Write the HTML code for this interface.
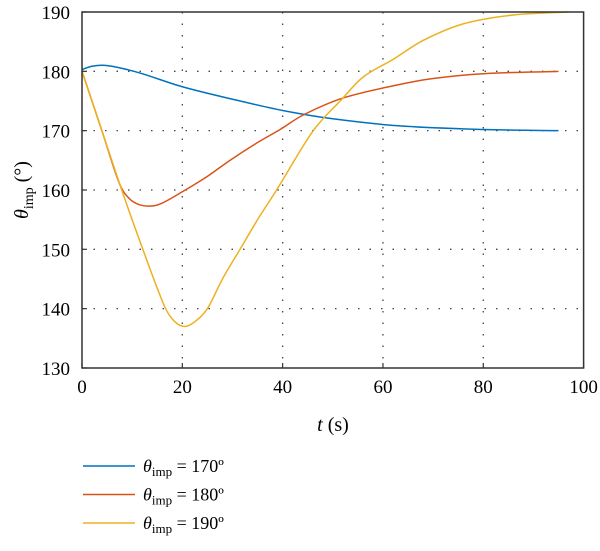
<!DOCTYPE html>
<html><head><meta charset="utf-8"><style>
body{margin:0;background:#fff;}
svg{display:block;font-family:"Liberation Serif",serif;}
</style></head><body>
<svg id="chart" width="600" height="551" viewBox="0 0 600 551">
<g id="grid"></g>
<g id="series"></g>
<rect x="82" y="12" width="501.6" height="356" fill="none" stroke="#333" stroke-width="1.5"/>
<g id="ticks"></g>
<text x="333" y="431" font-size="20" text-anchor="middle"><tspan font-style="italic">t</tspan> (s)</text>
<text transform="translate(28,190) rotate(-90)" font-size="20" text-anchor="middle"><tspan font-style="italic">θ</tspan><tspan font-size="14" dy="5">imp</tspan><tspan dy="-5"> (°)</tspan></text>
<g id="legend"></g>
</svg>
<script>
const xTicks=[0,20,40,60,80,100];
const yTicks=[130,140,150,160,170,180,190];
const seriesLabels=["170º","180º","190º"];
const colors=["#0072BD","#D95319","#EDB120"];
const t170=[0,2,4.6,8,12,20,30,40,50,63.4,80,95];
const v170=[180.3,180.85,181,180.5,179.6,177.4,175.3,173.4,172,170.8,170.2,170];
const t180=[0,4,7.5,9.5,11.5,13.9,16,20,25,29.5,35,39.5,44,52,63.4,70,80,95];
const v180=[180,169.9,161,158.5,157.5,157.3,157.8,159.7,162.3,165,168,170.2,172.6,175.5,177.8,178.8,179.6,180];
const t190=[0,4,8,12,16.5,18.5,20.5,22.5,25,28,31.5,35,38.8,46.1,51.8,56,62,68,76,86,97];
const v190=[180,169.9,159.8,150.3,140.3,137.8,137,137.8,140,145,150,155,160,170,175.3,179,182,185.2,188,189.5,190];
const ts=[t170,t180,t190], vs=[v170,v180,v190];
const X=t=>82+t*5.016, Y=v=>12+(190-v)*5.933;
const NS="http://www.w3.org/2000/svg";
function mk(tag,attrs,parent){const e=document.createElementNS(NS,tag);for(const k in attrs)e.setAttribute(k,attrs[k]);parent.appendChild(e);return e;}
const grid=document.getElementById('grid'),ticks=document.getElementById('ticks'),ser=document.getElementById('series'),leg=document.getElementById('legend');
xTicks.forEach(t=>{
 if(t>0&&t<100){const l=mk('line',{x1:X(t),x2:X(t),y1:12,y2:368,stroke:'#444','stroke-width':1.3,'stroke-dasharray':'1.5 10'},grid);
 
 }
 const tk=mk('line',{x1:X(t),x2:X(t),y1:368,y2:363,stroke:'#333','stroke-width':1.2},ticks);
 
 
 const tx=mk('text',{x:X(t),y:393,'font-size':19,'text-anchor':'middle'},ticks);tx.textContent=t;
 
 
});
yTicks.forEach(v=>{
 if(v>130&&v<190){const l=mk('line',{x1:82,x2:583.6,y1:Y(v),y2:Y(v),stroke:'#444','stroke-width':1.3,'stroke-dasharray':'1.5 10'},grid);
 
 }
 const tk=mk('line',{x1:82,x2:87,y1:Y(v),y2:Y(v),stroke:'#333','stroke-width':1.2},ticks);
 
 
 const tx=mk('text',{x:70,y:Y(v)+7,'font-size':19,'text-anchor':'end'},ticks);tx.textContent=v;
 
 
});
function hermite(tt,vv){
 const n=tt.length,m=[];
 for(let i=0;i<n;i++){const a=Math.max(0,i-1),b=Math.min(n-1,i+1);m.push((vv[b]-vv[a])/(tt[b]-tt[a]));}
 let d=`M${X(tt[0])},${Y(vv[0])}`;
 for(let i=0;i<n-1;i++){const h=tt[i+1]-tt[i];
  d+=` C${X(tt[i]+h/3)},${Y(vv[i]+m[i]*h/3)} ${X(tt[i+1]-h/3)},${Y(vv[i+1]-m[i+1]*h/3)} ${X(tt[i+1])},${Y(vv[i+1])}`;}
 return d;}
ts.forEach((tt,i)=>{
 const p=mk('path',{d:hermite(tt,vs[i]),fill:'none',stroke:colors[i],'stroke-width':1.5},ser);
 
 
 const ly=466+i*28.5;
 const g=mk('g',{},leg);
 
 
 mk('line',{x1:83,x2:135,y1:ly,y2:ly,stroke:colors[i],'stroke-width':1.5},g);
 const tx=mk('text',{x:143,y:ly+6,'font-size':18},g);
 tx.innerHTML=`<tspan font-style="italic">θ</tspan><tspan font-size="13" dy="4">imp</tspan><tspan dy="-4"> = ${seriesLabels[i]}</tspan>`;
});
</script>
</body></html>
